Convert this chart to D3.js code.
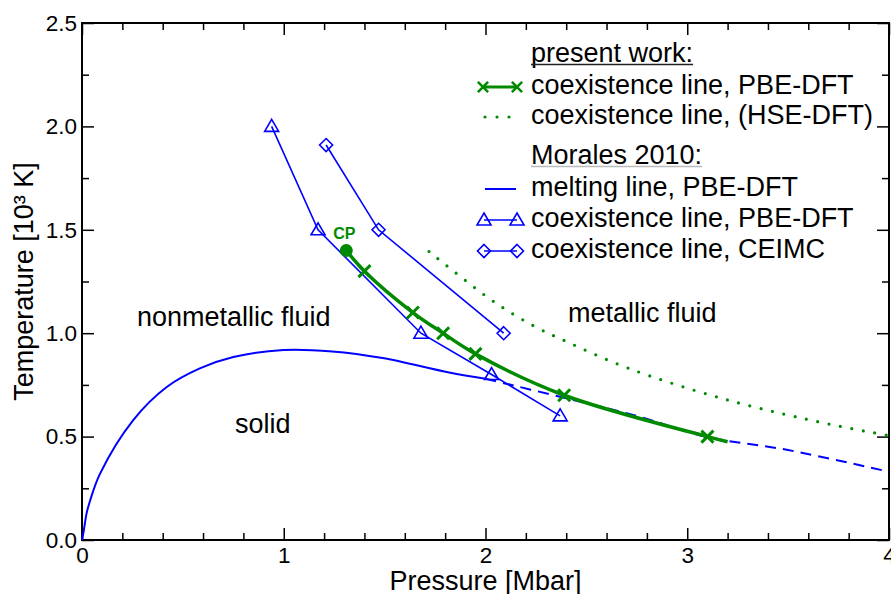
<!DOCTYPE html>
<html>
<head>
<meta charset="utf-8">
<script src="https://cdn.jsdelivr.net/npm/d3@7"></script>
<style>
  body { margin: 0; background: #fff; }
  svg { display: block; font-family: "Liberation Sans", Arial, Helvetica, sans-serif; }
</style>
</head>
<body>
<div id="chart"></div>
<script>
// axis ticks
var xMajor = [0, 1, 2, 3, 4]
var xMinor = [0.2, 0.4, 0.6, 0.8, 1.2, 1.4, 1.6, 1.8, 2.2, 2.4, 2.6, 2.8, 3.2, 3.4, 3.6, 3.8]
var yMajor = [0, 0.5, 1.0, 1.5, 2.0, 2.5]
var yMinor = [0.25, 0.75, 1.25, 1.75, 2.25]

// present work: PBE-DFT coexistence line (critical point, markers, curve end)
var cp = [1.31, 1.40]
var pbeMarkers = [[1.40, 1.30], [1.64, 1.10], [1.79, 1.00], [1.95, 0.90], [2.39, 0.70], [3.10, 0.50]]
var pbeEnd = [3.20, 0.475]

// present work: HSE-DFT coexistence line (estimate)
var hseLine = [[1.72, 1.395], [2.03, 1.16], [2.23, 1.04], [2.4, 0.96], [2.71, 0.83], [3.2, 0.677], [3.71, 0.559], [4.0, 0.505]]

// Morales 2010: melting line (solid part, then dashed extrapolation)
var meltSolid = [[0, 0], [0.007, 0.035], [0.023, 0.13], [0.04, 0.19], [0.089, 0.32], [0.254, 0.58], [0.42, 0.74],
  [0.584, 0.83], [0.75, 0.885], [1.0, 0.919], [1.24, 0.912], [1.49, 0.88], [1.82, 0.81], [2.0, 0.78]]
var meltDashed = [[2.0, 0.78], [2.38, 0.69], [2.75, 0.60], [3.09, 0.50], [3.5, 0.435], [4.0, 0.33]]

// Morales 2010: coexistence lines
var moralesPBE = [[0.94, 2.0], [1.17, 1.5], [1.68, 1.0], [2.03, 0.8], [2.37, 0.6]]
var moralesCEIMC = [[1.21, 1.91], [1.47, 1.5], [2.09, 1.0]]

var legendRows = [
  { text: 'present work:', kind: 'header', ul: '#222' },
  { text: 'coexistence line, PBE-DFT', kind: 'pbe' },
  { text: 'coexistence line, (HSE-DFT)', kind: 'hse' },
  { text: 'Morales 2010:', kind: 'header', ul: '#bbb' },
  { text: 'melting line, PBE-DFT', kind: 'melt' },
  { text: 'coexistence line, PBE-DFT', kind: 'tri' },
  { text: 'coexistence line, CEIMC', kind: 'dia' }
]
var legendBase = [62, 94, 124, 164, 196, 227, 258]

var width = 891
var height = 594
var green = '#008a00'
var blue = '#0000ff'

var x = d3.scaleLinear().domain([0, 4]).range([82, 889])
var y = d3.scaleLinear().domain([0, 2.5]).range([540, 23])

var svg = d3.select('#chart').append('svg')
  .attr('width', width)
  .attr('height', height)

var xMark = 'M-6,-6L6,6M-6,6L6,-6'
var triMark = 'M0,-7L7,5L-7,5Z'
var diaMark = 'M0,-6.5L6.5,0L0,6.5L-6.5,0Z'

function line (curve) {
  return d3.line()
    .x(function (d) { return x(d[0]) })
    .y(function (d) { return y(d[1]) })
    .curve(curve || d3.curveLinear)
}

// axes, ticks pointing inward on all four sides
function styleAxis (g) {
  g.select('.domain').remove()
  g.selectAll('line').attr('stroke', '#000').attr('stroke-width', 1.5)
  g.selectAll('text').attr('font-size', 22.5).attr('fill', '#000').attr('font-family', null)
}
svg.append('g').attr('transform', 'translate(0,540)')
  .call(d3.axisBottom(x).tickValues(xMajor).tickSize(-12).tickPadding(7).tickFormat(d3.format('d')))
  .call(styleAxis)
svg.append('g').attr('transform', 'translate(0,540)')
  .call(d3.axisBottom(x).tickValues(xMinor).tickSize(-7).tickFormat(''))
  .call(styleAxis)
svg.append('g').attr('transform', 'translate(0,23)')
  .call(d3.axisTop(x).tickValues(xMajor).tickSize(-12).tickFormat(''))
  .call(styleAxis)
svg.append('g').attr('transform', 'translate(0,23)')
  .call(d3.axisTop(x).tickValues(xMinor).tickSize(-7).tickFormat(''))
  .call(styleAxis)
svg.append('g').attr('transform', 'translate(82,0)')
  .call(d3.axisLeft(y).tickValues(yMajor).tickSize(-12).tickPadding(5).tickFormat(d3.format('.1f')))
  .call(styleAxis)
svg.append('g').attr('transform', 'translate(82,0)')
  .call(d3.axisLeft(y).tickValues(yMinor).tickSize(-7).tickFormat(''))
  .call(styleAxis)
svg.append('g').attr('transform', 'translate(889,0)')
  .call(d3.axisRight(y).tickValues(yMajor).tickSize(-12).tickFormat(''))
  .call(styleAxis)
svg.append('g').attr('transform', 'translate(889,0)')
  .call(d3.axisRight(y).tickValues(yMinor).tickSize(-7).tickFormat(''))
  .call(styleAxis)

svg.append('rect')
  .attr('x', 82).attr('y', 23)
  .attr('width', 889 - 82).attr('height', 540 - 23)
  .attr('fill', 'none').attr('stroke', '#000').attr('stroke-width', 2)

svg.append('text')
  .attr('x', (82 + 889) / 2).attr('y', 590)
  .attr('text-anchor', 'middle').attr('font-size', 27)
  .text('Pressure [Mbar]')
svg.append('text')
  .attr('transform', 'translate(33,' + (23 + 540) / 2 + ') rotate(-90)')
  .attr('text-anchor', 'middle').attr('font-size', 27)
  .text('Temperature [10³ K]')

// region labels
svg.append('text').attr('x', 137).attr('y', 326).attr('font-size', 27).text('nonmetallic fluid')
svg.append('text').attr('x', 235).attr('y', 433).attr('font-size', 27).text('solid')
svg.append('text').attr('x', 568).attr('y', 322).attr('font-size', 27).text('metallic fluid')

var plot = svg.append('g')

// melting line
plot.append('path').datum(meltSolid)
  .attr('d', line(d3.curveCatmullRom))
  .attr('fill', 'none').attr('stroke', blue).attr('stroke-width', 2)
plot.append('path').datum(meltDashed)
  .attr('d', line(d3.curveCatmullRom))
  .attr('fill', 'none').attr('stroke', blue).attr('stroke-width', 2)
  .attr('stroke-dasharray', '11 7')

// Morales coexistence lines
plot.append('path').datum(moralesPBE)
  .attr('d', line())
  .attr('fill', 'none').attr('stroke', blue).attr('stroke-width', 1.6)
plot.selectAll('.tri').data(moralesPBE).enter().append('path')
  .attr('class', 'tri')
  .attr('transform', function (d) { return 'translate(' + x(d[0]) + ',' + y(d[1]) + ')' })
  .attr('d', triMark)
  .attr('fill', 'none').attr('stroke', blue).attr('stroke-width', 1.6)

plot.append('path').datum(moralesCEIMC)
  .attr('d', line())
  .attr('fill', 'none').attr('stroke', blue).attr('stroke-width', 1.6)
plot.selectAll('.dia').data(moralesCEIMC).enter().append('path')
  .attr('class', 'dia')
  .attr('transform', function (d) { return 'translate(' + x(d[0]) + ',' + y(d[1]) + ')' })
  .attr('d', diaMark)
  .attr('fill', 'none').attr('stroke', blue).attr('stroke-width', 1.6)

// HSE dotted line
plot.append('path').datum(hseLine)
  .attr('d', line(d3.curveCatmullRom))
  .attr('fill', 'none').attr('stroke', green).attr('stroke-width', 3.2)
  .attr('stroke-linecap', 'round').attr('stroke-dasharray', '0 11.6')

// PBE coexistence line
plot.append('path').datum([cp].concat(pbeMarkers, [pbeEnd]))
  .attr('d', line(d3.curveCatmullRom))
  .attr('fill', 'none').attr('stroke', green).attr('stroke-width', 3.5)
plot.selectAll('.xm').data(pbeMarkers).enter().append('path')
  .attr('class', 'xm')
  .attr('transform', function (d) { return 'translate(' + x(d[0]) + ',' + y(d[1]) + ')' })
  .attr('d', xMark)
  .attr('stroke', green).attr('stroke-width', 3)

plot.append('circle')
  .attr('cx', x(cp[0])).attr('cy', y(cp[1])).attr('r', 6.5)
  .attr('fill', green)
plot.append('text')
  .attr('x', x(cp[0]) - 2).attr('y', y(cp[1]) - 11)
  .attr('text-anchor', 'middle').attr('font-size', 16).attr('font-weight', 'bold')
  .attr('fill', green)
  .text('CP')

// legend
var legend = svg.append('g')
legendRows.forEach(function (row, i) {
  var by = legendBase[i]
  var sy = by - 7
  var t = legend.append('text').attr('x', 531).attr('y', by).attr('font-size', 27).text(row.text)
  if (row.kind === 'header') {
    var w = t.node().getComputedTextLength()
    legend.append('line')
      .attr('x1', 531).attr('x2', 531 + w).attr('y1', by + 2.5).attr('y2', by + 2.5)
      .attr('stroke', row.ul).attr('stroke-width', 1.5)
  } else if (row.kind === 'pbe') {
    legend.append('line').attr('x1', 483).attr('x2', 517).attr('y1', sy).attr('y2', sy)
      .attr('stroke', green).attr('stroke-width', 3)
    ;[483, 517].forEach(function (px) {
      legend.append('path').attr('transform', 'translate(' + px + ',' + sy + ') scale(0.85)')
        .attr('d', xMark).attr('stroke', green).attr('stroke-width', 3)
    })
  } else if (row.kind === 'hse') {
    legend.append('line').attr('x1', 485).attr('x2', 509.5).attr('y1', sy).attr('y2', sy)
      .attr('stroke', green).attr('stroke-width', 3.2)
      .attr('stroke-linecap', 'round').attr('stroke-dasharray', '0 12')
  } else if (row.kind === 'melt') {
    legend.append('line').attr('x1', 485).attr('x2', 516).attr('y1', sy).attr('y2', sy)
      .attr('stroke', blue).attr('stroke-width', 2)
  } else if (row.kind === 'tri' || row.kind === 'dia') {
    legend.append('line').attr('x1', 484).attr('x2', 517).attr('y1', sy).attr('y2', sy)
      .attr('stroke', blue).attr('stroke-width', 1.6)
    ;[484, 517].forEach(function (px) {
      legend.append('path').attr('transform', 'translate(' + px + ',' + sy + ')')
        .attr('d', row.kind === 'tri' ? triMark : diaMark)
        .attr('fill', 'none').attr('stroke', blue).attr('stroke-width', 1.6)
    })
  }
})
</script>
</body>
</html>
